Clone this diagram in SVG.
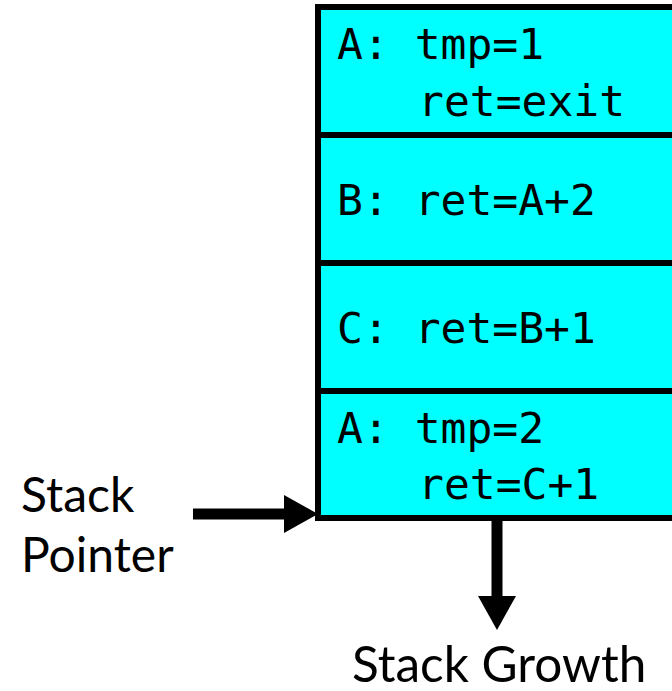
<svg xmlns="http://www.w3.org/2000/svg" width="672" height="691" viewBox="0 0 672 691">
<style>
.frame{fill:#00FFFF;stroke:#000;stroke-width:6}
.mono{font-family:"DejaVu Sans Mono","Liberation Mono",monospace;font-size:43px;fill:#000}
.lbl{font-family:Lato,"Open Sans",sans-serif;font-size:48px;fill:#000}
</style>
<defs>
<marker id="ah" markerUnits="userSpaceOnUse" markerWidth="36" markerHeight="38" refX="0" refY="19" orient="auto">
<path d="M0,0 L34,19 L0,38 Z" fill="#000"/>
</marker>
</defs>
<rect x="0" y="0" width="672" height="691" fill="#fff"/>
<g id="frame1"><rect class="frame" x="318" y="7" width="380" height="128"/>
<text class="mono" x="337" y="59">A: tmp=1</text>
<text class="mono" x="418" y="116">ret=exit</text></g>
<g id="frame2"><rect class="frame" x="318" y="135" width="380" height="128"/>
<text class="mono" x="337" y="215">B: ret=A+2</text></g>
<g id="frame3"><rect class="frame" x="318" y="263" width="380" height="128"/>
<text class="mono" x="337" y="343">C: ret=B+1</text></g>
<g id="frame4"><rect class="frame" x="318" y="391" width="380" height="127"/>
<text class="mono" x="337" y="443">A: tmp=2</text>
<text class="mono" x="418" y="499">ret=C+1</text></g>
<g id="stack-pointer-label"><text class="lbl" x="21" y="512">Stack</text>
<text class="lbl" x="21" y="572">Pointer</text></g>
<g id="stack-growth-label"><text class="lbl" x="352" y="682" style="font-size:49.5px">Stack Growth</text></g>
<g id="connectors">
<line x1="193" y1="514" x2="284" y2="514" stroke="#000" stroke-width="11" marker-end="url(#ah)"/>
<line x1="497" y1="520" x2="497" y2="596" stroke="#000" stroke-width="11" marker-end="url(#ah)"/>
</g>
</svg>
